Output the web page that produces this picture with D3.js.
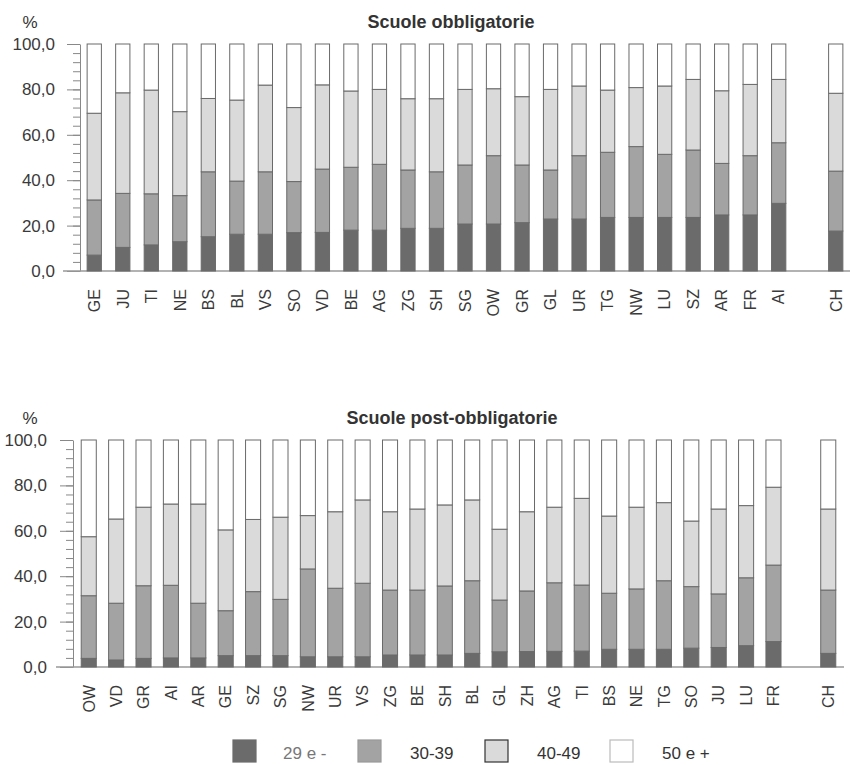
<!DOCTYPE html>
<html>
<head>
<meta charset="utf-8">
<script src="https://cdn.jsdelivr.net/npm/d3@7"></script>
<style>
  body { margin: 0; background: #fff; }
  text { font-family: "Liberation Sans", Arial, sans-serif; }
</style>
</head>
<body>
<div id="chart"></div>
<script>
// age bands (legend order, bottom to top in the stacks)
const ageGroups = ["29 e -", "30-39", "40-49", "50 e +"];

// Scuole obbligatorie
const obbCantons = ["GE","JU","TI","NE","BS","BL","VS","SO","VD","BE","AG","ZG","SH","SG","OW","GR","GL","UR","TG","NW","LU","SZ","AR","FR","AI","CH"];
const obb29 = [7.0,10.4,11.5,12.9,15.1,16.2,16.2,16.9,17.0,18.0,18.0,18.8,18.8,20.7,20.7,21.3,22.9,22.9,23.6,23.6,23.6,23.6,24.7,24.7,29.8,17.6];
const obb30 = [24.3,23.8,22.5,20.3,28.6,23.4,27.5,22.5,27.9,27.7,29.0,25.7,24.9,26.0,30.1,25.4,21.6,27.9,28.7,31.2,27.8,29.7,22.7,26.1,26.7,26.4];
const obb40 = [38.2,44.3,45.7,37.0,32.3,35.7,38.2,32.6,37.1,33.6,33.0,31.4,32.2,33.3,29.5,30.1,35.5,30.7,27.4,26.0,30.1,31.1,32.0,31.4,27.9,34.3];
const obb50 = [30.5,21.5,20.3,29.8,24.0,24.7,18.1,28.0,18.0,20.7,20.0,24.1,24.1,20.0,19.7,23.2,20.0,18.5,20.3,19.2,18.5,15.6,20.6,17.8,15.6,21.7];

// Scuole post-obbligatorie
const postCantons = ["OW","VD","GR","AI","AR","GE","SZ","SG","NW","UR","VS","ZG","BE","SH","BL","GL","ZH","AG","TI","BS","NE","TG","SO","JU","LU","FR","CH"];
const post29 = [3.8,3.1,3.8,4.0,4.0,5.0,5.0,5.0,4.5,4.5,4.5,5.3,5.3,5.3,6.0,6.7,6.8,6.9,7.0,7.8,7.8,7.8,8.3,8.6,9.4,11.2,6.0];
const post30 = [27.6,25.0,32.0,32.0,24.1,19.8,28.2,24.8,38.7,30.2,32.4,28.6,28.6,30.4,32.0,22.8,26.7,30.2,29.1,24.7,26.6,30.2,27.1,23.6,29.9,33.7,27.9];
const post40 = [26.0,37.1,34.6,35.8,43.7,35.6,31.8,36.2,23.5,33.7,36.7,34.5,35.7,35.7,35.6,31.2,34.9,33.3,38.2,34.0,36.0,34.4,28.9,37.4,31.8,34.3,35.7];
const post50 = [42.6,34.8,29.6,28.2,28.2,39.6,35.0,34.0,33.3,31.6,26.4,31.6,30.4,28.6,26.4,39.3,31.6,29.6,25.7,33.5,29.6,27.6,35.7,30.4,28.9,20.8,30.4];

const yTicks = [0, 20, 40, 60, 80, 100];
const colors = ["#6b6b6b", "#a3a3a3", "#dadada", "#ffffff"];

const W = 853, H = 765;
const svg = d3.select("#chart").append("svg").attr("width", W).attr("height", H);

const itFormat = d3.formatLocale({ decimal: ",", thousands: ".", grouping: [3], currency: ["", ""] }).format(".1f");

function drawPanel(cfg) {
  const rows = cfg.cantons.map(function (c, i) {
    const r = { canton: c };
    cfg.series.forEach(function (s, k) { r[ageGroups[k]] = s[i]; });
    return r;
  });
  const stacked = d3.stack().keys(ageGroups)(rows);

  // gap before CH
  const domain = cfg.cantons.slice(0, -1).concat(["_gap", "CH"]);
  const x = d3.scaleBand().domain(domain)
    .range([cfg.axisX, cfg.right])
    .paddingInner(cfg.padIn)
    .paddingOuter(cfg.padOut);
  const y = d3.scaleLinear().domain([0, 100]).range([cfg.bottom, cfg.top]);

  const g = svg.append("g");

  // minor ticks
  g.append("g")
    .attr("transform", "translate(" + cfg.axisX + ",0)")
    .call(d3.axisLeft(y).tickValues(d3.range(0, 101, 4)).tickSize(7).tickSizeOuter(0).tickFormat(""))
    .call(function (a) { a.select(".domain").remove(); })
    .selectAll("line").attr("stroke", "#888");

  // major ticks + labels
  const ax = g.append("g")
    .attr("transform", "translate(" + cfg.axisX + ",0)")
    .call(d3.axisLeft(y).tickValues(yTicks).tickSize(13).tickSizeOuter(0).tickPadding(cfg.labelPad).tickFormat(itFormat));
  ax.select(".domain").attr("stroke", "#888");
  ax.selectAll("line").attr("stroke", "#888");
  ax.selectAll("text").attr("fill", "#3a3a3a").style("font-size", "17px")
    .style("font-family", "\"Liberation Sans\", Arial, sans-serif");

  // baseline
  g.append("line")
    .attr("x1", cfg.axisX - 17).attr("x2", cfg.right)
    .attr("y1", y(0)).attr("y2", y(0))
    .attr("stroke", "#999").attr("stroke-width", 1.5);

  // stacked bars
  g.selectAll("g.layer")
    .data(stacked)
    .enter().append("g")
    .attr("class", "layer")
    .attr("fill", function (d, i) { return colors[i]; })
    .selectAll("rect")
    .data(function (d) { return d; })
    .enter().append("rect")
    .attr("x", function (d) { return x(d.data.canton); })
    .attr("width", x.bandwidth())
    .attr("y", function (d) { return y(d[1]); })
    .attr("height", function (d) { return y(d[0]) - y(d[1]); })
    .attr("stroke", "#6a6a6a")
    .attr("stroke-width", 1);

  // category labels, rotated
  g.selectAll("text.cat")
    .data(cfg.cantons)
    .enter().append("text")
    .attr("class", "cat")
    .attr("transform", function (d) {
      return "translate(" + (x(d) + x.bandwidth() / 2) + "," + (cfg.bottom + 18) + ") rotate(-90)";
    })
    .attr("dy", "0.36em")
    .attr("text-anchor", "end")
    .attr("fill", "#3a3a3a")
    .style("font-size", "16px")
    .text(function (d) { return d; });

  // title and unit
  g.append("text")
    .attr("x", cfg.titleX).attr("y", cfg.titleY)
    .attr("text-anchor", "middle")
    .attr("fill", "#333")
    .style("font-size", "18px")
    .style("font-weight", "bold")
    .text(cfg.title);
  g.append("text")
    .attr("x", cfg.pctX).attr("y", cfg.titleY)
    .attr("text-anchor", "middle")
    .attr("fill", "#333")
    .style("font-size", "17px")
    .text("%");
}

drawPanel({
  cantons: obbCantons,
  series: [obb29, obb30, obb40, obb50],
  axisX: 80, right: 850, padIn: 0.5, padOut: 0.25,
  top: 44, bottom: 271, labelPad: 12,
  title: "Scuole obbligatorie", titleX: 451, titleY: 28, pctX: 30
});

drawPanel({
  cantons: postCantons,
  series: [post29, post30, post40, post50],
  axisX: 73, right: 844, padIn: 0.45, padOut: 0.3,
  top: 440, bottom: 667, labelPad: 13,
  title: "Scuole post-obbligatorie", titleX: 452, titleY: 424, pctX: 30
});

// legend
const legend = svg.append("g").attr("transform", "translate(0,740)");
const legX = [233, 358, 485, 610];
const legStroke = ["#6b6b6b", "#999", "#333", "#bbb"];
const legItems = legend.selectAll("g")
  .data(ageGroups)
  .enter().append("g")
  .attr("transform", function (d, i) { return "translate(" + legX[i] + ",0)"; });
legItems.append("rect")
  .attr("width", 23).attr("height", 22)
  .attr("fill", function (d, i) { return colors[i]; })
  .attr("stroke", function (d, i) { return legStroke[i]; })
  .attr("stroke-width", 1.2);
legItems.append("text")
  .attr("x", function (d, i) { return i === 0 ? 50 : 52; })
  .attr("y", 19)
  .attr("fill", function (d, i) { return i === 0 ? "#777" : "#333"; })
  .style("font-size", "17px")
  .text(function (d) { return d; });
</script>
</body>
</html>
